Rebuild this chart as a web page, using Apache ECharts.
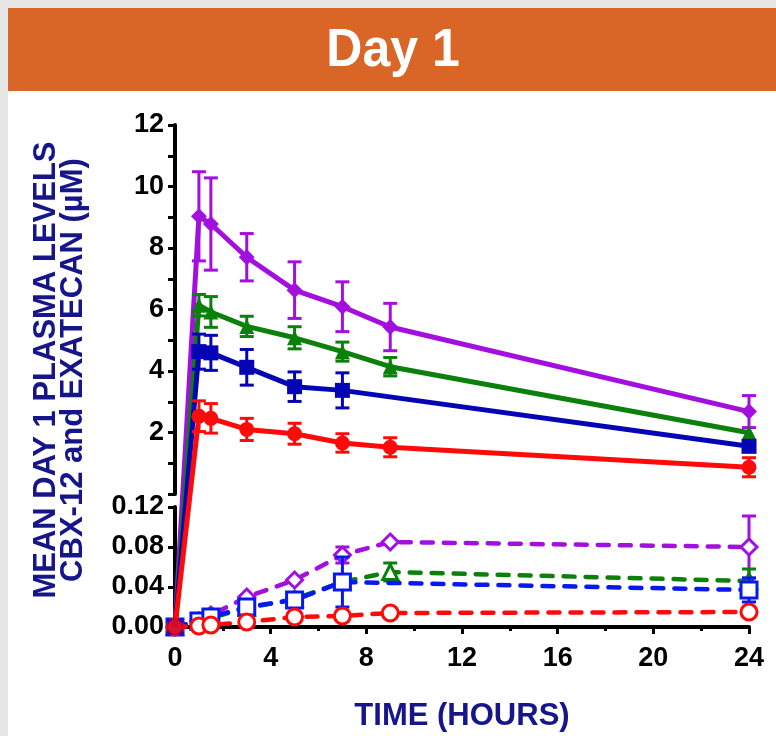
<!DOCTYPE html>
<html><head><meta charset="utf-8">
<script src="https://cdn.jsdelivr.net/npm/echarts@6/dist/echarts.min.js"></script>
<style>html,body{margin:0;padding:0;background:#fff}#c{width:776px;height:736px}</style>
</head><body><div id="c"></div>
<script>
// sampling times (hours)
const times = [0, 1, 1.5, 3, 5, 7, 9, 24];
const xTickLabels = [0, 4, 8, 12, 16, 20, 24];
const upperTickLabels = [2, 4, 6, 8, 10, 12];
const lowerTickLabels = [0.00, 0.04, 0.08, 0.12];

// CBX-12 (solid lines, upper panel, µM)
const cbxPurple    = [0, 9.03, 8.78, 7.70, 6.63, 6.09, 5.43, 2.68];
const cbxPurpleErr = [0, 1.45, 1.50, 0.77, 0.92, 0.81, 0.77, 0.52];
const cbxGreen     = [0, 6.14, 5.92, 5.45, 5.08, 4.63, 4.14, 1.99];
const cbxGreenErr  = [0, 0.35, 0.50, 0.33, 0.36, 0.31, 0.30, 0];
const cbxBlue      = [0, 4.63, 4.59, 4.12, 3.49, 3.37, null, 1.55];
const cbxBlueErr   = [0, 0.57, 0.57, 0.58, 0.48, 0.57, null, 0];
const cbxRed       = [0, 2.53, 2.46, 2.10, 1.96, 1.66, 1.52, 0.87];
const cbxRedErr    = [0, 0.50, 0.48, 0.36, 0.34, 0.30, 0.31, 0.31];

// Exatecan (dashed lines, lower panel, µM)
const exaPurple    = [0, 0.006, 0.012, 0.030, 0.047, 0.072, 0.085, 0.080];
const exaPurpleErr = [0, 0, 0, 0, 0, 0.008, 0, 0.031];
const exaGreen     = [0, 0.005, 0.009, 0.019, 0.028, 0.045, 0.055, 0.046];
const exaGreenErr  = [0, 0, 0, 0, 0, 0, 0.009, 0.012];
const exaBlue      = [0, 0.006, 0.010, 0.020, 0.027, 0.045, null, 0.037];
const exaBlueErr   = [0, 0, 0, 0, 0, 0.025, null, 0.012];
const exaRed       = [0, 0.001, 0.002, 0.005, 0.010, 0.011, 0.014, 0.015];
const exaRedErr    = [0, 0, 0, 0, 0, 0, 0, 0];

const C = {purple:'#A30FDF', green:'#0B800B', blue:'#0505B5', blueD:'#0A18F0', red:'#FF0A0A', navy:'#16168A', orange:'#D96527'};
const FONT = '"Liberation Sans", Arial, sans-serif';

function pairs(vals, from) {
  const out = [];
  for (let i = from; i < times.length; i++) if (vals[i] != null) out.push([times[i], vals[i]]);
  return out;
}
function errSeries(ax, vals, errs, color, z) {
  const data = [];
  times.forEach((t, i) => { if (vals[i] != null && errs[i]) data.push([t, vals[i] - errs[i], vals[i] + errs[i]]); });
  return {
    type: 'custom', xAxisIndex: ax, yAxisIndex: ax, z: z, data: data, clip: false,
    encode: {x: 0, y: [1, 2]},
    renderItem: function (params, api) {
      const x = api.value(0);
      const lo = api.coord([x, api.value(1)]);
      const hi = api.coord([x, api.value(2)]);
      const w = 7, st = {stroke: color, lineWidth: 3};
      return {type: 'group', children: [
        {type: 'line', shape: {x1: lo[0], y1: lo[1], x2: hi[0], y2: hi[1]}, style: st},
        {type: 'line', shape: {x1: lo[0] - w, y1: lo[1], x2: lo[0] + w, y2: lo[1]}, style: st},
        {type: 'line', shape: {x1: hi[0] - w, y1: hi[1], x2: hi[0] + w, y2: hi[1]}, style: st}
      ]};
    }
  };
}
function solid(vals, color, symbol, size, z) {
  const d = pairs(vals, 1);
  d.unshift({value: [times[0], vals[0]], symbol: 'none'});
  return {type: 'line', xAxisIndex: 0, yAxisIndex: 0, z: z, clip: false, data: d, symbol: symbol, symbolSize: size,
    connectNulls: true, lineStyle: {color: color, width: 5}, itemStyle: {color: color}};
}
function zeroMark(vals, color, symbol, size, z) {
  return {type: 'scatter', xAxisIndex: 1, yAxisIndex: 1, z: z, data: [[times[0], vals[0]]], symbol: symbol, symbolSize: size,
    itemStyle: {color: color}};
}
function dashed(vals, color, symbol, size, z) {
  return {type: 'line', xAxisIndex: 1, yAxisIndex: 1, z: z, data: pairs(vals, 0), symbol: symbol, symbolSize: size,
    connectNulls: true, lineStyle: {color: color, width: 4.5, type: [11, 11], cap: 'round'},
    itemStyle: {color: '#fff', borderColor: color, borderWidth: 3}};
}

const axisLabel = {color: '#000', fontFamily: FONT, fontWeight: 'bold', fontSize: 27};
const axisLine = {show: true, lineStyle: {color: '#000', width: 4}};

const option = {
  animation: false,
  backgroundColor: '#fff',
  graphic: [
    {type: 'rect', shape: {x: 0, y: 0, width: 776, height: 8}, style: {fill: '#E6E6E6'}, z: 0},
    {type: 'rect', shape: {x: 0, y: 0, width: 8, height: 736}, style: {fill: '#E6E6E6'}, z: 0},
    {type: 'rect', shape: {x: 8, y: 8, width: 768, height: 83}, style: {fill: C.orange}, z: 0},
    {type: 'text', x: 393, y: 51, scaleY: 1.08, style: {text: 'Day 1', fill: '#fff', font: 'bold 50px ' + FONT, align: 'center', verticalAlign: 'middle'}, z: 1},
    {type: 'text', x: 60, y: 370, rotation: Math.PI / 2,
     style: {text: 'MEAN DAY 1 PLASMA LEVELS\nCBX-12 and EXATECAN (µM)', fill: C.navy, font: 'bold 31px ' + FONT,
             lineHeight: 27, align: 'center', verticalAlign: 'middle'}, z: 1}
  ],
  grid: [
    {left: 175, right: 27, top: 125, height: 369},
    {left: 175, right: 27, top: 507, height: 120}
  ],
  xAxis: [
    {gridIndex: 0, type: 'value', min: xTickLabels[0], max: xTickLabels[xTickLabels.length - 1], interval: 4, show: false},
    {gridIndex: 1, type: 'value', min: xTickLabels[0], max: xTickLabels[xTickLabels.length - 1], interval: 4,
     axisLine: axisLine, splitLine: {show: false},
     axisTick: {show: true, length: 7, lineStyle: {color: '#000', width: 3}},
     minorTick: {show: true, splitNumber: 2, length: 4, lineStyle: {color: '#000', width: 3}},
     axisLabel: Object.assign({margin: 18}, axisLabel),
     name: 'TIME (HOURS)', nameLocation: 'middle', nameGap: 74,
     nameTextStyle: {color: C.navy, fontFamily: FONT, fontWeight: 'bold', fontSize: 31}}
  ],
  yAxis: [
    {gridIndex: 0, type: 'value', min: 0, max: upperTickLabels[upperTickLabels.length - 1], interval: 2,
     axisLine: axisLine, splitLine: {show: false},
     axisTick: {show: true, length: 7, lineStyle: {color: '#000', width: 3}},
     minorTick: {show: true, splitNumber: 2, length: 7, lineStyle: {color: '#000', width: 3}},
     axisLabel: Object.assign({margin: 11, showMinLabel: false}, axisLabel)},
    {gridIndex: 1, type: 'value', min: lowerTickLabels[0], max: lowerTickLabels[lowerTickLabels.length - 1], interval: 0.04,
     axisLine: axisLine, splitLine: {show: false},
     axisTick: {show: true, length: 7, lineStyle: {color: '#000', width: 3}},
     axisLabel: Object.assign({margin: 11, formatter: v => v.toFixed(2)}, axisLabel)}
  ],
  series: [
    dashed(exaPurple, C.purple, 'diamond', 16, 3),
    errSeries(1, exaPurple, exaPurpleErr, C.purple, 3),
    dashed(exaGreen, C.green, 'triangle', 15, 4),
    errSeries(1, exaGreen, exaGreenErr, C.green, 4),
    dashed(exaBlue, C.blueD, 'rect', 16, 5),
    errSeries(1, exaBlue, exaBlueErr, C.blueD, 5),
    dashed(exaRed, C.red, 'circle', 16, 6),
    errSeries(1, exaRed, exaRedErr, C.red, 6),

    solid(cbxPurple, C.purple, 'diamond', 16, 7),
    errSeries(0, cbxPurple, cbxPurpleErr, C.purple, 7),
    solid(cbxGreen, C.green, 'triangle', 15, 8),
    errSeries(0, cbxGreen, cbxGreenErr, C.green, 8),
    solid(cbxBlue, C.blue, 'rect', 15, 9),
    errSeries(0, cbxBlue, cbxBlueErr, C.blue, 9),
    solid(cbxRed, C.red, 'circle', 15, 10),
    errSeries(0, cbxRed, cbxRedErr, C.red, 10),
    zeroMark(cbxBlue, C.blue, 'rect', 15, 11),
    zeroMark(cbxRed, C.red, 'circle', 15, 12)
  ]
};

const chart = echarts.init(document.getElementById('c'), null, {renderer: 'canvas'});
chart.setOption(option);

// The t=0 samples sit on the lower (broken) panel; express that point in the upper panel's scale
// so the solid lines run continuously across the axis break.
const solidIdx = [8, 10, 12, 14];
const solidVals = [cbxPurple, cbxGreen, cbxBlue, cbxRed];
solidIdx.forEach((si, k) => {
  const px = chart.convertToPixel({xAxisIndex: 1, yAxisIndex: 1}, [times[0], solidVals[k][0]]);
  const d = chart.convertFromPixel({xAxisIndex: 0, yAxisIndex: 0}, px);
  option.series[si].data[0] = {value: [times[0], d[1]], symbol: 'none'};
});
chart.setOption({series: option.series});
</script>
</body></html>
